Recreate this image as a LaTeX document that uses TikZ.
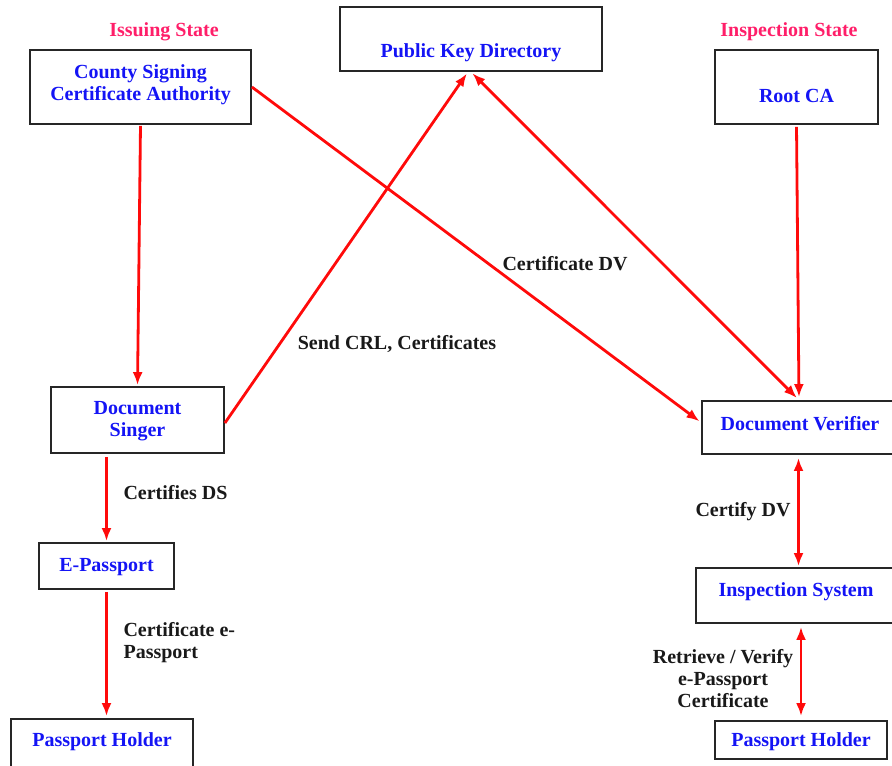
\documentclass[tikz,border=0pt]{standalone}
\usepackage{fontspec}
\setmainfont{Liberation Serif}
\usepackage{tikz}
\usetikzlibrary{arrows.meta}
\usetikzlibrary{positioning,calc}
\usepackage{xcolor}
\definecolor{boxblue}{RGB}{20,20,245}
\definecolor{statepink}{RGB}{255,30,105}
\definecolor{linkred}{RGB}{255,10,10}
\tikzset{
    box/.style={
        draw=black!85,
        line width=1.8pt,
        rectangle,
        inner sep=0pt
    },
    boxtext/.style={
        text=boxblue,
        align=center,
        font=\fontsize{20}{22}\selectfont\bfseries
    },
    edgetext/.style={
        text=black!90,
        align=center,
        font=\fontsize{20}{22}\selectfont\bfseries
    },
    statetext/.style={
        text=statepink,
        font=\fontsize{20}{22}\selectfont\bfseries
    }
}

\begin{document}
\begin{tikzpicture}[
      x = 1pt,
      y = -1pt,
      link/.style = {
          draw=linkred,
          line width=2.8pt,
          -{Latex[length=13pt, width=10pt]}
      },
      both/.style = {
          link,
          {Latex[length=13pt, width=10pt]}-{Latex[length=13pt, width=10pt]}
      }
  ]
  \useasboundingbox (0,0) rectangle (892,766);

  % Headings
  \node[statetext] (issuing) at (164,32) {Issuing State};
  \node[statetext] (inspection) at (789,32) {Inspection State};

  % Boxes
  \node[box, minimum width=221pt, minimum height=74pt] (csca) at (140.5,87) {};
  \node[boxtext] (cscat) at (140.5,85) {County Signing\\Certificate Authority};

  \node[box, minimum width=262pt, minimum height=64pt] (pkd) at (471,39) {};
  \node[boxtext] (pkdt) at (471,53) {Public Key Directory};

  \node[box, minimum width=163pt, minimum height=74pt] (root) at (796.5,87) {};
  \node[boxtext] (roott) at (796.5,96) {Root CA};

  \node[box, minimum width=173pt, minimum height=66pt] (ds) at (137.5,420) {};
  \node[boxtext] (dst) at (137.5,421) {Document\\Singer};

  \node[box, minimum width=135pt, minimum height=46pt] (ep) at (106.5,566) {};
  \node[boxtext] (ept) at (106.5,567) {E-Passport};

  \node[box, minimum width=182pt, minimum height=60pt] (phl) at (102,749) {};
  \node[boxtext] (phlt) at (102,742) {Passport Holder};

  \node[box, minimum width=194pt, minimum height=53pt] (dv) at (799,427.5) {};
  \node[boxtext] (dvt) at (800,424) {Document Verifier};

  \node[box, minimum width=200pt, minimum height=55pt] (is) at (796,595.5) {};
  \node[boxtext] (ist) at (796,592) {Inspection System};

  \node[box, minimum width=172pt, minimum height=38pt] (phr) at (801,740) {};
  \node[boxtext] (phrt) at (801,742) {Passport Holder};

  % Connectors
  \path[link, shorten <=1pt, shorten >=1pt] (csca.south) -- (ds.north);
  \path[link, shorten >=2pt] (csca.east) -- ([yshift=5pt]dv.west);
  \path[link, shorten >=2pt] ([yshift=-3pt]ds.east) -- ([xshift=-3pt]pkd.south);
  \path[both, shorten <=2pt, shorten >=3pt] (pkd.south) -- (dv.north);
  \path[link, shorten <=2pt, shorten >=3pt] (root.south) -- (dv.north);
  \path[link, shorten <=3pt, shorten >=1pt] (ds.south -| ep.north) -- (ep.north);
  \path[link, shorten <=2pt, shorten >=2pt] (ep.south) -- (ep.south |- phl.north);
  \path[both, shorten <=3pt, shorten >=1pt] ([xshift=-0.5pt]dv.south) -- ([xshift=-0.5pt]dv.south |- is.north);
  \path[both, shorten <=3pt, shorten >=4pt] (is.south -| phr.north) -- (phr.north);

  % Labels
  \node[edgetext, anchor=west] (certds) at (120,493) {Certifies DS};
  \node[edgetext, anchor=north west, align=left] (certep) at (120,619) {Certificate e-\\Passport};
  \node[edgetext] (certdv) at (565,264) {Certificate DV};
  \node[edgetext] (sendcrl) at (397,344) {Send CRL, Certificates};
  \node[edgetext, anchor=east] (certifydv) at (794,512) {Certify DV};
  \node[edgetext] (retrieve) at (723,679) {Retrieve / Verify\\e-Passport\\Certificate};
\end{tikzpicture}
\end{document}
